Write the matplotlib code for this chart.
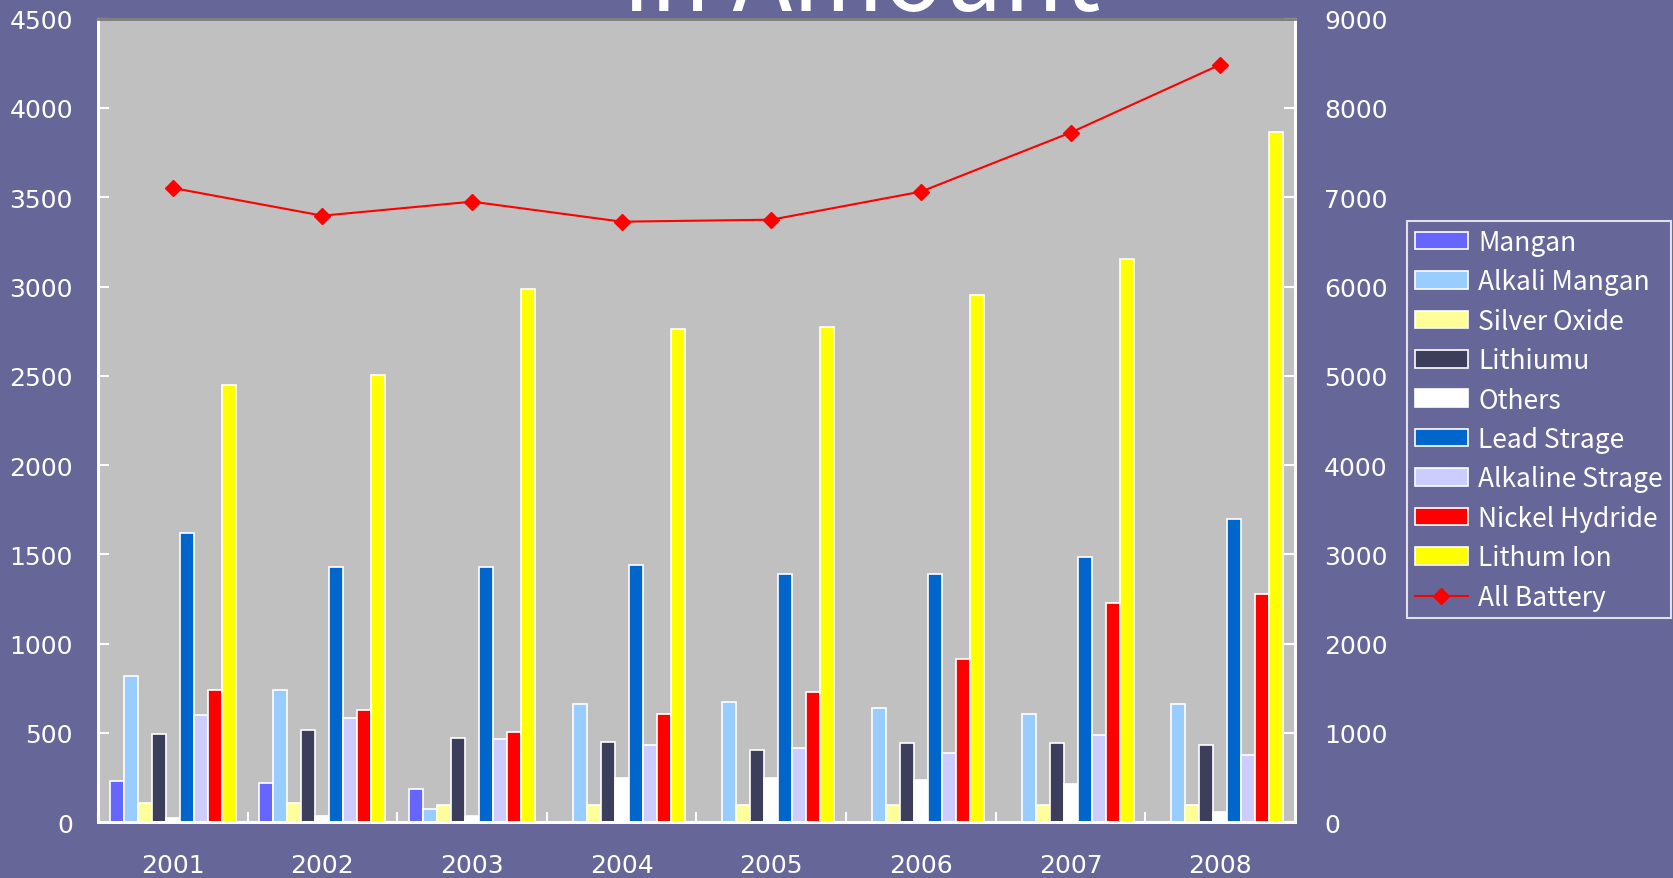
import matplotlib
matplotlib.use("Agg")
import matplotlib.pyplot as plt
import numpy as np

plt.rcParams['font.family'] = ['Noto Sans CJK JP', 'DejaVu Sans']

years = ["2001", "2002", "2003", "2004", "2005", "2006", "2007", "2008"]
series_names = ["Mangan", "Alkali Mangan", "Silver Oxide", "Lithiumu", "Others",
                "Lead Strage", "Alkaline Strage", "Nickel Hydride", "Lithum Ion"]
mangan          = [231, 218, 185, 0, 0, 0, 0, 0]
alkali_mangan   = [819, 743, 75, 662, 674, 642, 608, 662]
silver_oxide    = [110, 108, 99, 97, 97, 97, 97, 97]
lithiumu        = [496, 519, 474, 452, 407, 442, 442, 431]
others          = [22, 34, 34, 246, 246, 237, 215, 56]
lead_strage     = [1618, 1431, 1431, 1439, 1388, 1388, 1488, 1697]
alkaline_strage = [599, 586, 465, 431, 418, 386, 487, 375]
nickel_hydride  = [741, 629, 508, 606, 730, 916, 1228, 1278]
lithium_ion     = [2450, 2504, 2984, 2760, 2771, 2951, 3153, 3863]
all_battery     = [7103, 6793, 6950, 6726, 6748, 7062, 7723, 8484]

series_values = [mangan, alkali_mangan, silver_oxide, lithiumu, others,
                 lead_strage, alkaline_strage, nickel_hydride, lithium_ion]
colors = ["#6666FF", "#99CCFF", "#FFFF99", "#3D3D5C", "#FFFFFF",
          "#0066CC", "#CCCCFF", "#FF0000", "#FFFF00"]

BG = "#666699"
W, H = 1674, 879
fig = plt.figure(figsize=(W / 100, H / 100), dpi=100, facecolor=BG)
left, right, top, bottom = 98 / W, 1295 / W, 19.6 / H, 823.3 / H
ax = fig.add_axes([left, 1 - bottom, right - left, bottom - top])
ax.set_facecolor("#C0C0C0")

n = len(series_values)
bw = 0.0936
x = np.arange(len(years))
for i, (name, vals, c) in enumerate(zip(series_names, series_values, colors)):
    offs = (i - (n - 1) / 2) * bw
    ax.bar(x + offs, vals, width=bw, color=c, edgecolor="white", linewidth=1.2,
           label=name, zorder=2)

tick_font = {"family": ["DejaVu Sans"], "size": 18}

ax.set_xlim(-0.5, len(years) - 0.5)
ax.set_ylim(0, 4500)
yt = np.arange(0, 4501, 500)
ax.set_yticks(yt)
ax.set_yticklabels([str(v) for v in yt], fontdict=tick_font)
ax.set_xticks(np.arange(-0.5, len(years) - 0.4, 1.0))
ax.set_xticklabels([])
ax.set_xticks(x, minor=True)
ax.set_xticklabels(years, minor=True, fontdict=tick_font)
ax.tick_params(axis='x', which='major', direction='in', length=7, width=1.5, color='white')
ax.tick_params(axis='x', which='minor', length=0, pad=22, labelcolor='white')
ax.tick_params(axis='y', direction='in', length=8, width=1.5, color='white',
               pad=18, labelcolor='white')

for s in ["left", "right", "bottom"]:
    ax.spines[s].set_color("white")
    ax.spines[s].set_linewidth(2)
ax.spines["top"].set_color("#808080")
ax.spines["top"].set_linewidth(2)

ax2 = ax.twinx()
ax2.set_ylim(0, 9000)
yt2 = np.arange(0, 9001, 1000)
ax2.set_yticks(yt2)
ax2.set_yticklabels([str(v) for v in yt2], fontdict=tick_font)
line, = ax2.plot(x, all_battery, color="#FF0000", linewidth=1.5, marker="D",
                 markersize=8, label="All Battery", zorder=5)
ax2.tick_params(axis='y', direction='in', length=8, width=1.5, color='white',
                pad=21, labelcolor='white')
for s in ["left", "right", "bottom"]:
    ax2.spines[s].set_color("white")
    ax2.spines[s].set_linewidth(2)
ax2.spines["top"].set_color("#808080")
ax2.spines["top"].set_linewidth(2)

h1, l1 = ax.get_legend_handles_labels()
h2, l2 = ax2.get_legend_handles_labels()
leg = fig.legend(h1 + h2, l1 + l2, loc="upper left",
                 bbox_to_anchor=(1407 / W, 1 - 222 / H), borderaxespad=0,
                 frameon=True, fancybox=False, facecolor=BG, edgecolor="white",
                 fontsize=19, labelcolor="white", handlelength=2.0,
                 handleheight=0.65, handletextpad=0.4, labelspacing=0.47,
                 borderpad=0.3)
leg.get_frame().set_linewidth(1.5)

fig.text(0.515, 1 - 11 / H, "in Amount", color="white", fontsize=71,
         ha="center", va="baseline")

fig.savefig("out.png", dpi=100, facecolor=BG)
